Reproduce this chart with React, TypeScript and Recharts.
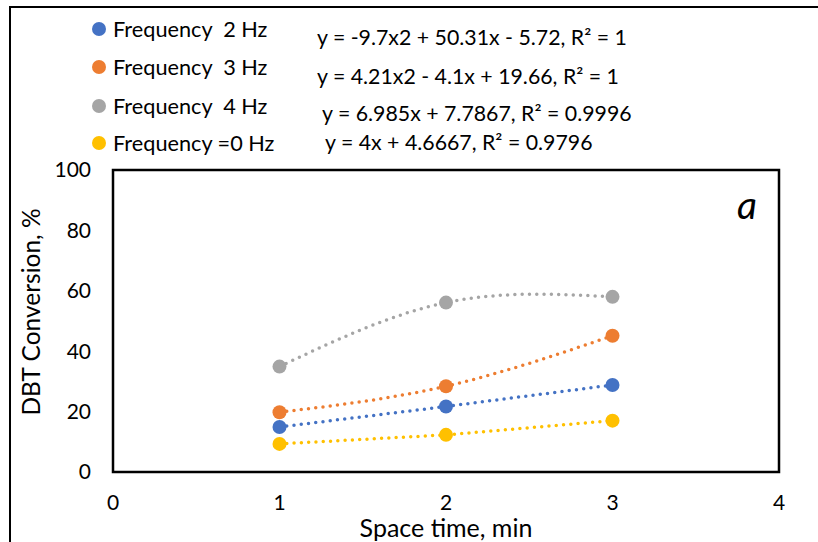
import React from "react";
import { LineChart, Line, XAxis, YAxis, Legend, ReferenceArea } from "recharts";

const FONT = "Lato, 'Liberation Sans', sans-serif";

const spaceTime = [1, 2, 3];
const freq2Hz = [14.9, 21.7, 28.8];
const freq3Hz = [19.8, 28.4, 45.1];
const freq4Hz = [34.9, 56.1, 58.0];
const freq0Hz = [9.3, 12.3, 17.0];

const xTicks = [0, 1, 2, 3, 4];
const yTicks = [0, 20, 40, 60, 80, 100];

const seriesNames = ["Frequency  2 Hz", "Frequency  3 Hz", "Frequency  4 Hz", "Frequency =0 Hz"];
const equations = [
  "y = -9.7x2 + 50.31x - 5.72, R² = 1",
  "y = 4.21x2 - 4.1x + 19.66, R² = 1",
  "y = 6.985x + 7.7867, R² = 0.9996",
  "y = 4x + 4.6667, R² = 0.9796",
];

const series = [
  { key: "f2", name: seriesNames[0], color: "#4472C4", curve: "linear" },
  { key: "f3", name: seriesNames[1], color: "#ED7D31", curve: "natural" },
  { key: "f4", name: seriesNames[2], color: "#A5A5A5", curve: "natural" },
  { key: "f0", name: seriesNames[3], color: "#FFC000", curve: "linear" },
];

const data = spaceTime.map((t, i) => ({
  t,
  f2: freq2Hz[i],
  f3: freq3Hz[i],
  f4: freq4Hz[i],
  f0: freq0Hz[i],
}));

// row centres of legend entries and equation labels
const legendRows = [29, 67, 106, 143];
const eqRows = [37, 76, 113, 142];
const eqLeft = [317, 317, 322, 325];

const renderLegend = () => (
  <div style={{ position: "relative", width: 818, height: 170, fontFamily: FONT, color: "#000" }}>
    {series.map((s, i) => (
      <div
        key={s.key}
        style={{
          position: "absolute",
          left: 92,
          top: legendRows[i] - 12,
          height: 24,
          lineHeight: "24px",
          display: "flex",
          alignItems: "center",
          whiteSpace: "pre",
          fontSize: 21.7,
        }}
      >
        <span
          style={{
            display: "inline-block",
            width: 14,
            height: 14,
            borderRadius: 7,
            background: s.color,
            marginRight: 7,
          }}
        />
        {s.name}
      </div>
    ))}
    {equations.map((e, i) => (
      <div
        key={e}
        style={{
          position: "absolute",
          left: eqLeft[i],
          top: eqRows[i] - 12,
          lineHeight: "24px",
          whiteSpace: "pre",
          fontSize: 21.3,
        }}
      >
        {e}
      </div>
    ))}
    <div
      style={{
        position: "absolute",
        left: 737,
        top: 184,
        fontSize: 39,
        fontStyle: "italic",
        lineHeight: "40px",
      }}
    >
      a
    </div>
  </div>
);

export default function App() {
  return (
    <div
      style={{
        position: "absolute",
        left: 0,
        top: 0,
        width: 818,
        height: 542,
        background: "#fff",
        overflow: "hidden",
      }}
    >
      <div
        style={{
          position: "absolute",
          left: 9,
          top: 6,
          width: 830,
          height: 560,
          borderLeft: "2px solid #000",
          borderTop: "2px solid #000",
        }}
      />
      <LineChart
        width={818}
        height={542}
        data={data}
        margin={{ top: 170, right: 39, bottom: 40, left: 53 }}
        style={{ fontFamily: FONT }}
      >
        <XAxis
          type="number"
          dataKey="t"
          domain={[0, 4]}
          ticks={xTicks}
          axisLine={false}
          tickLine={false}
          tickSize={0}
          tickMargin={23}
          height={30}
          tick={{ fill: "#000", fontSize: 21 }}
          label={{
            value: "Space time, min",
            position: "bottom",
            offset: 17,
            style: { fill: "#000", fontSize: 25 },
          }}
        />
        <YAxis
          type="number"
          domain={[0, 100]}
          ticks={yTicks}
          axisLine={false}
          tickLine={false}
          tickSize={0}
          tickMargin={22}
          width={60}
          tick={{ fill: "#000", fontSize: 21 }}
          label={{
            value: "DBT Conversion, %",
            angle: -90,
            position: "center",
            dx: -52,
            dy: -9,
            style: { fill: "#000", fontSize: 24.5, textAnchor: "middle" },
          }}
        />
        <ReferenceArea
          x1={0}
          x2={4}
          y1={0}
          y2={100}
          fill="none"
          stroke="#000"
          strokeWidth={2.5}
          ifOverflow="visible"
        />
        {series.map((s) => (
          <Line
            key={s.key}
            dataKey={s.key}
            name={s.name}
            type={s.curve as any}
            stroke={s.color}
            strokeWidth={3.5}
            strokeDasharray="0 7.3"
            strokeLinecap="round"
            dot={{ r: 7, fill: s.color, stroke: "none" }}
            activeDot={false}
            isAnimationActive={false}
          />
        ))}
        <Legend
          layout="vertical"
          align="center"
          verticalAlign="middle"
          content={renderLegend}
          wrapperStyle={{ top: 0, left: 0, width: 818, height: 170 }}
        />
      </LineChart>
    </div>
  );
}
